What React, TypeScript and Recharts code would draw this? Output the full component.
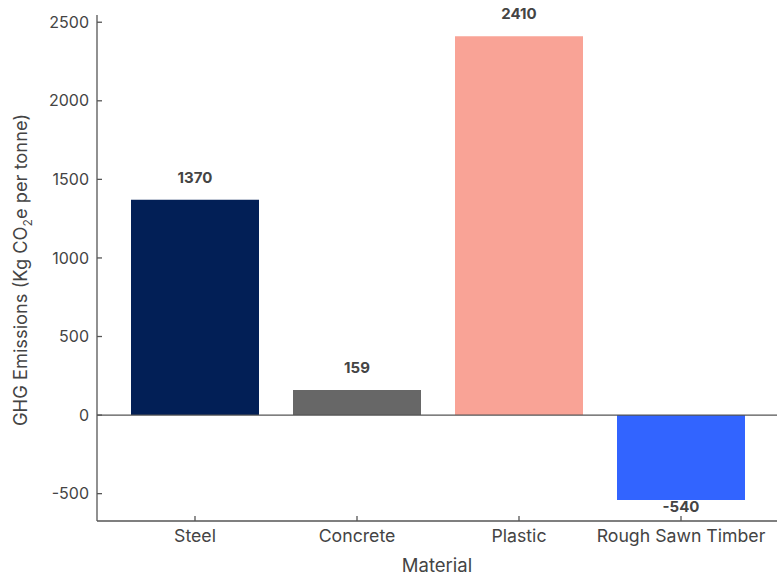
import { Bar, BarChart, Cell, LabelList, ReferenceLine, XAxis, YAxis } from 'recharts';

const materials = ['Steel', 'Concrete', 'Plastic', 'Rough Sawn Timber'];
const emissions = [1370, 159, 2410, -540];
const barColors = ['#021f56', '#676767', '#f9a396', '#3264ff'];
const yTicks = [-500, 0, 500, 1000, 1500, 2000, 2500];

const data = materials.map((material, i) => ({ material, value: emissions[i] }));

const FONT = 'Inter, "DejaVu Sans", sans-serif';
const AXIS = '#555555';
const TEXT = '#444444';

function ValueLabel(props: any) {
  const { x, y, width, height, value } = props;
  const cx = x + width / 2;
  if (value >= 0) {
    return (
      <text x={cx} y={y - 17} textAnchor="middle" fill={TEXT} fontSize={15} fontWeight={700} fontFamily={FONT}>
        {value}
      </text>
    );
  }
  const bottom = Math.max(y, y + height);
  return (
    <text x={cx} y={bottom + 12} textAnchor="middle" fill={TEXT} fontSize={15} fontWeight={700} fontFamily={FONT}>
      {value}
    </text>
  );
}

function YLabel(props: any) {
  const { viewBox } = props;
  const cx = 20;
  const cy = viewBox.y + viewBox.height / 2 + 2;
  return (
    <text
      x={cx}
      y={cy}
      transform={`rotate(-90, ${cx}, ${cy})`}
      textAnchor="middle"
      dominantBaseline="central"
      fill={TEXT}
      fontSize={18.3}
      fontFamily={FONT}
    >
      GHG Emissions (Kg CO<tspan baselineShift="sub" fontSize={12}>2</tspan>e per tonne)
    </text>
  );
}

export default function App() {
  return (
    <div style={{ position: 'absolute', left: 0, top: 0, width: 777, height: 581, background: '#fff' }}>
      <BarChart
        width={777}
        height={581}
        data={data}
        margin={{ top: 15, right: 0, left: 0, bottom: 0 }}
        barCategoryGap={17}
      >
        <XAxis
          dataKey="material"
          height={60}
          padding={{ left: 17, right: 15 }}
          tickSize={-5}
          tickMargin={13}
          stroke={AXIS}
          strokeWidth={1.3}
          tick={{ fill: TEXT, fontSize: 17.7, fontFamily: FONT }}
          label={{ value: 'Material', position: 'insideBottom', offset: 9, fill: TEXT, fontSize: 18.5, fontFamily: FONT }}
        />
        <YAxis
          width={97}
          domain={[-674, 2546]}
          ticks={yTicks}
          allowDataOverflow
          tickSize={-5}
          tickMargin={13}
          stroke={AXIS}
          strokeWidth={1.3}
          tick={{ fill: TEXT, fontSize: 16, fontFamily: FONT }}
          label={<YLabel />}
        />
        <ReferenceLine y={0} stroke={AXIS} strokeWidth={1.3} />
        <Bar dataKey="value" isAnimationActive={false}>
          {data.map((d, i) => (
            <Cell key={d.material} fill={barColors[i]} />
          ))}
          <LabelList dataKey="value" content={<ValueLabel />} />
        </Bar>
      </BarChart>
    </div>
  );
}
